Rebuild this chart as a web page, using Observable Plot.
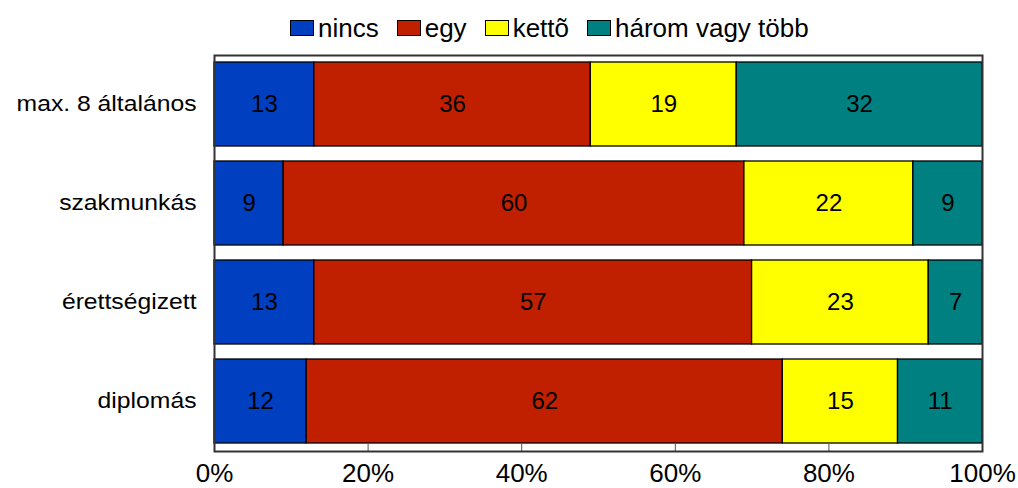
<!DOCTYPE html>
<html>
<head>
<meta charset="utf-8">
<script src="https://cdn.jsdelivr.net/npm/d3@7"></script>
<script src="https://cdn.jsdelivr.net/npm/@observablehq/plot@0.6"></script>
<style>
  html, body { margin: 0; padding: 0; background: #fff; }
  body { width: 1018px; height: 488px; overflow: hidden; font-family: "Liberation Sans", Arial, sans-serif; }
  #legend { height: 44px; display: flex; justify-content: flex-start; align-items: center; font-size: 26px; color: #000; padding-top: 12px; padding-left: 290px; box-sizing: border-box; }
  .item { display: flex; align-items: center; margin-right: 18px; }
  .sw { width: 22px; height: 14px; border: 1px solid #000; margin-right: 4px; }
</style>
</head>
<body>
<div id="legend"></div>
<div id="chart"></div>
<script>
const categories = ["max. 8 általános", "szakmunkás", "érettségizett", "diplomás"];
const series = ["nincs", "egy", "kettõ", "három vagy több"];
const colors = ["#0040C0", "#C02000", "#FFFF00", "#008080"];
const nincs = [13, 9, 13, 12];
const egy = [36, 60, 57, 62];
const ketto = [19, 22, 23, 15];
const harom = [32, 9, 7, 11];
const xTicks = [0, 20, 40, 60, 80, 100];

const seriesValues = [nincs, egy, ketto, harom];
const data = [];
categories.forEach((c, i) => {
  series.forEach((s, j) => {
    data.push({cat: c, series: s, value: seriesValues[j][i]});
  });
});

const legend = document.getElementById("legend");
series.forEach((s, j) => {
  const it = document.createElement("div");
  it.className = "item";
  const sw = document.createElement("div");
  sw.className = "sw";
  sw.style.background = colors[j];
  const t = document.createElement("span");
  t.textContent = s;
  it.appendChild(sw); it.appendChild(t);
  legend.appendChild(it);
});

const stack = {x: "value", y: "cat", z: "series", order: series};
const chart = Plot.plot({
  width: 1018,
  height: 444,
  marginTop: 11,
  marginBottom: 37,
  marginLeft: 214,
  marginRight: 36,
  style: {fontFamily: "Liberation Sans, Arial, sans-serif", fontSize: "20px", background: "#fff", color: "#000", overflow: "visible"},
  x: {domain: [0, 100], label: null},
  y: {domain: categories, paddingInner: 0.15, paddingOuter: 0.075, label: null},
  color: {domain: series, range: colors},
  marks: [
    Plot.barX(data, Plot.stackX({...stack, fill: "series", stroke: "#000", strokeWidth: 1.3})),
    Plot.text(data, Plot.stackX({...stack, text: "value", fill: "#000", fontSize: 24, className: "vals"})),
    Plot.axisX({ticks: xTicks, tickFormat: d => d + "%", tickSize: -8, stroke: "#555", tickPadding: 20, label: null, className: "xlab"}),
    Plot.axisY({tickSize: 0, tickPadding: 18, label: null, className: "ylab"}),
    Plot.frame({stroke: "#333", strokeWidth: 2})
  ]
});
document.getElementById("chart").appendChild(chart);

d3.select(chart).selectAll(".xlab text").style("font-size", "26px");
d3.select(chart).selectAll(".ylab text").style("font-size", "21.5px");
d3.select(chart).selectAll(".vals text").style("font-size", "24px");
// the reference's category labels are drawn slightly stretched horizontally
d3.select(chart).selectAll(".ylab text").each(function() {
  const t = this.getAttribute("transform") || "";
  this.setAttribute("transform", (t + " scale(1.15,1)").trim());
});
</script>
</body>
</html>
